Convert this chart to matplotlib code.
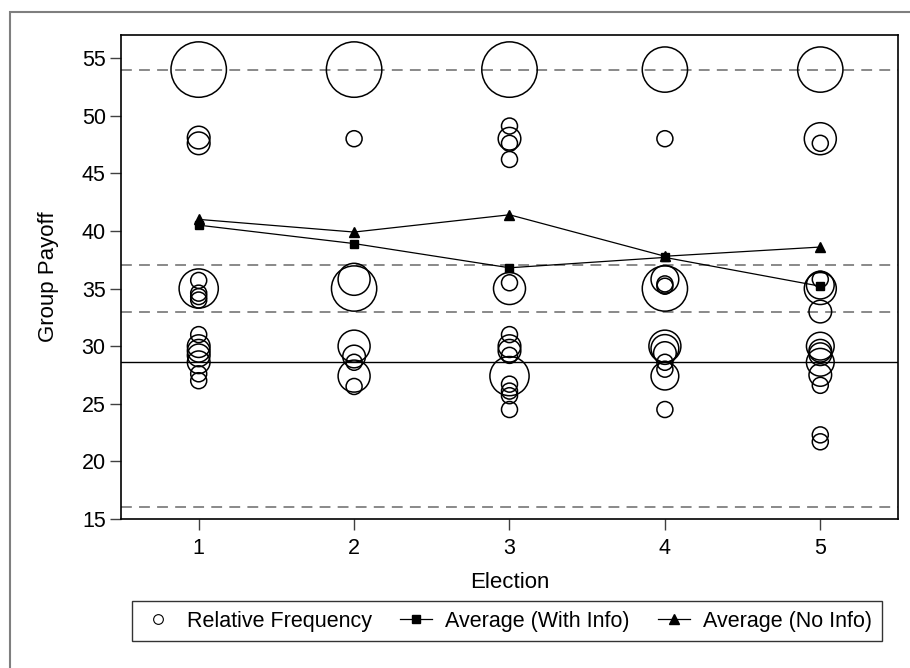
import matplotlib.pyplot as plt
from matplotlib.lines import Line2D
from matplotlib.patches import Rectangle
import numpy as np

plt.rcParams['font.family'] = ['Liberation Sans', 'DejaVu Sans']

elections = [1, 2, 3, 4, 5]

# payoff values observed per election and how often each occurred (group counts)
payoffs = [
    [54, 48.1, 47.6, 35.0, 35.7, 34.6, 34.3, 34.0, 31.0, 30.0, 29.6, 29.2, 28.6, 27.6, 27.0],
    [54, 48.0, 35.0, 35.8, 30.0, 29.1, 28.6, 27.4, 26.5],
    [54, 49.1, 48.0, 47.6, 46.2, 35.0, 35.5, 31.0, 30.0, 29.6, 29.2, 27.4, 26.7, 26.1, 25.7, 24.5],
    [54, 48.0, 35.0, 35.8, 35.4, 35.2, 30.0, 29.8, 29.4, 28.6, 28.0, 27.4, 24.5],
    [54, 48.0, 47.6, 35.0, 35.3, 35.8, 33.0, 30.0, 29.6, 29.3, 28.6, 27.5, 26.6, 22.3, 21.7],
]
freqs = [
    [12, 2, 2, 6, 1, 1, 1, 1, 1, 2, 2, 2, 2, 1, 1],
    [12, 1, 8, 4, 4, 2, 1, 4, 1],
    [12, 1, 2, 1, 1, 4, 1, 1, 2, 2, 1, 6, 1, 1, 1, 1],
    [8, 1, 8, 3, 1, 1, 4, 3, 2, 1, 1, 3, 1],
    [8, 4, 1, 4, 3, 1, 2, 3, 2, 2, 3, 2, 1, 1, 1],
]

avg_with_info = [40.5, 38.9, 36.8, 37.7, 35.2]
avg_no_info = [41.0, 39.9, 41.4, 37.8, 38.6]

dashed_levels = [54, 37, 33, 16]
solid_level = 28.6

fig = plt.figure(figsize=(9.1, 6.68), dpi=100)
ax = fig.add_axes([121/910, 1-519/668, 777/910, 484/668])

# outer grey frame (only its left and top edges fall inside the image)
fig.patches.append(Rectangle((10/910, -0.05), 1.0, 1-12/668+0.05, transform=fig.transFigure,
                             fill=False, edgecolor='#7f7f7f', linewidth=1.5))

for lvl in dashed_levels:
    ax.axhline(lvl, color='#808080', linestyle=(0, (6, 4)), linewidth=1.3, zorder=1)
ax.axhline(solid_level, color='black', linewidth=1.0, zorder=1)

base = (16 * 0.72) ** 2
for x, ys, fs in zip(elections, payoffs, freqs):
    ax.scatter([x] * len(ys), ys, s=[base * f for f in fs], facecolors='none',
               edgecolors='black', linewidths=1.1, zorder=2)

ax.plot(elections, avg_with_info, color='black', linewidth=0.9, marker='s', markersize=6, zorder=3)
ax.plot(elections, avg_no_info, color='black', linewidth=0.9, marker='^', markersize=7, zorder=3)

ax.set_xlim(0.5, 5.5)
ax.set_ylim(15, 57)
ax.set_xticks(elections)
ax.set_yticks(range(15, 56, 5))
ax.tick_params(axis='both', direction='out', length=8, width=1, color='#404040', labelsize=15.5)
ax.tick_params(axis='x', pad=6)
ax.tick_params(axis='y', pad=3)
for sp in ax.spines.values():
    sp.set_linewidth(1.2)
ax.set_xlabel('Election', fontsize=16, labelpad=9)
ax.set_ylabel('Group Payoff', fontsize=16, labelpad=16)

handles = [
    Line2D([], [], linestyle='none', marker='o', markersize=7, markerfacecolor='none',
           markeredgecolor='black', markeredgewidth=0.8),
    Line2D([], [], color='black', linewidth=0.9, marker='s', markersize=6),
    Line2D([], [], color='black', linewidth=0.9, marker='^', markersize=7),
]
labels = ['Relative Frequency', 'Average (With Info)', 'Average (No Info)']
leg = fig.legend(handles, labels, loc='center', bbox_to_anchor=(507/910, 1-621/668), ncol=3,
                 fontsize=15.5, frameon=True, fancybox=False, edgecolor='black',
                 handlelength=1.5, handletextpad=0.6, columnspacing=1.3, borderpad=0.45,
                 borderaxespad=0)
leg.get_frame().set_linewidth(1.0)

fig.savefig('out.png', dpi=100)
